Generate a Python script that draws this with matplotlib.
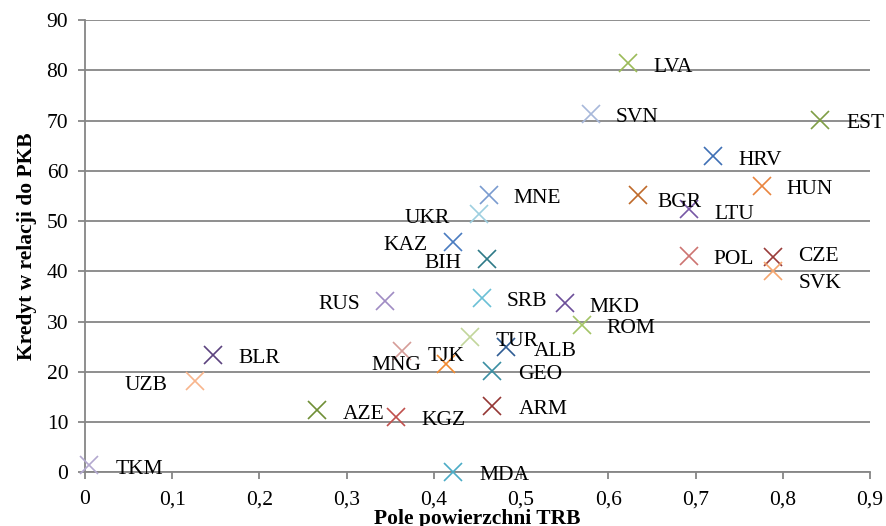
import matplotlib
matplotlib.use("Agg")
import matplotlib.pyplot as plt

plt.rcParams['font.family'] = ['Liberation Serif', 'DejaVu Serif']

# Country codes, TRB area (x) and credit-to-GDP ratio (y)
countries = ["LVA", "SVN", "EST", "HRV", "HUN", "MNE", "BGR", "LTU", "UKR", "KAZ",
             "BIH", "POL", "CZE", "SVK", "SRB", "MKD", "ROM", "TUR", "ALB", "TJK",
             "GEO", "ARM", "MDA", "RUS", "BLR", "MNG", "UZB", "AZE", "KGZ", "TKM"]
trb_area = [0.622, 0.580, 0.843, 0.720, 0.776, 0.463, 0.634, 0.693, 0.452, 0.422,
            0.461, 0.692, 0.789, 0.789, 0.455, 0.550, 0.570, 0.441, 0.483, 0.414,
            0.467, 0.467, 0.422, 0.344, 0.147, 0.363, 0.126, 0.266, 0.356, 0.005]
credit_gdp = [81.4, 71.3, 70.2, 62.9, 57.0, 55.2, 55.2, 52.3, 51.4, 45.8,
              42.4, 43.0, 42.8, 40.1, 34.7, 33.7, 29.4, 26.9, 24.9, 21.6,
              20.2, 13.1, 0.0, 34.0, 23.4, 24.2, 18.1, 12.4, 11.1, 1.5]

colors = {
    "LVA": "#9BBB59", "SVN": "#A7B8DA", "EST": "#7F9E45", "HRV": "#3F70B5",
    "HUN": "#E9853F", "MNE": "#7A9BCF", "BGR": "#BF6A2A", "LTU": "#7757A6",
    "UKR": "#9ECFE0", "KAZ": "#4A7CC0", "BIH": "#2E7A88", "POL": "#CD7471",
    "CZE": "#9A3C3A", "SVK": "#F5A56E", "SRB": "#6BC0D6", "MKD": "#6C4F99",
    "ROM": "#A3C466", "TUR": "#C2D69B", "ALB": "#2F5C94", "TJK": "#F08A30",
    "GEO": "#3A8FA3", "ARM": "#953735", "MDA": "#4BACC6", "RUS": "#A08CC4",
    "BLR": "#5C437F", "MNG": "#D69C98", "UZB": "#F8B58C", "AZE": "#6F8F36",
    "KGZ": "#C0504D", "TKM": "#B3A8CF",
}

# Label placement: (dx, dy) in pixels (dy downward) and horizontal alignment
label_pos = {
    "LVA": (26, 1, "left"), "SVN": (25, 1, "left"), "EST": (26, 1, "left"),
    "HRV": (25, 1, "left"), "HUN": (25, 1, "left"), "MNE": (25, 1, "left"),
    "BGR": (19, 5, "left"), "LTU": (25, 2, "left"), "UKR": (-29, 2, "right"),
    "KAZ": (-26, 0, "right"), "BIH": (-26, 1, "right"), "POL": (25, 0, "left"),
    "CZE": (25, -4, "left"), "SVK": (25, 10, "left"), "SRB": (25, 1, "left"),
    "MKD": (25, 2, "left"), "ROM": (24, 1, "left"), "TUR": (26, 1, "left"),
    "ALB": (27, 1, "left"), "TJK": (0, -10, "center"), "GEO": (26, 1, "left"),
    "ARM": (26, 0, "left"), "MDA": (26, 0, "left"), "RUS": (-25, 0, "right"),
    "BLR": (25, 1, "left"), "MNG": (-5, 12, "center"), "UZB": (-27, 1, "right"),
    "AZE": (26, 2, "left"), "KGZ": (26, 1, "left"), "TKM": (26, 2, "left"),
}

FS = 15.5
BASELINE_SHIFT = 3  # puts cap letters level with the marker centre

fig = plt.figure(figsize=(8.86, 5.26), dpi=100)
ax = fig.add_axes([85 / 886, 1 - 472.3 / 526, (870 - 85) / 886, (472.3 - 20) / 526])

grid_color = "#868686"
ax.set_xlim(0, 0.9)
ax.set_ylim(0, 90)
ax.set_xticks([i / 10 for i in range(10)])
ax.set_xticklabels(["0"] + [f"0,{i}" for i in range(1, 10)])
ax.set_yticks(range(0, 91, 10))
ax.yaxis.grid(True, color=grid_color, linewidth=1.3)
ax.set_axisbelow(True)
for side in ("top", "right"):
    ax.spines[side].set_visible(False)
for side in ("left", "bottom"):
    ax.spines[side].set_color(grid_color)
    ax.spines[side].set_linewidth(1.3)
ax.tick_params(axis="both", colors=grid_color, labelcolor="black",
               labelsize=FS, length=5, width=1.3)
ax.tick_params(axis="x", pad=8)
ax.tick_params(axis="y", pad=7)

for c, x, y in zip(countries, trb_area, credit_gdp):
    ax.plot(x, y, marker="x", markersize=13.5, markeredgewidth=1.2,
            color=colors[c], linestyle="none", clip_on=False, zorder=3)
    dx, dy, ha = label_pos[c]
    ax.annotate(c, (x, y), xytext=(dx, -(dy + BASELINE_SHIFT)),
                textcoords="offset pixels", ha=ha, va="center",
                fontsize=FS, color="black", annotation_clip=False, zorder=4)

ax.set_xlabel("Pole powierzchni TRB", fontsize=FS, fontweight="bold", labelpad=0)
ax.set_ylabel("Kredyt w relacji do PKB", fontsize=FS, fontweight="bold", labelpad=7)

fig.savefig("out.png", dpi=100)
